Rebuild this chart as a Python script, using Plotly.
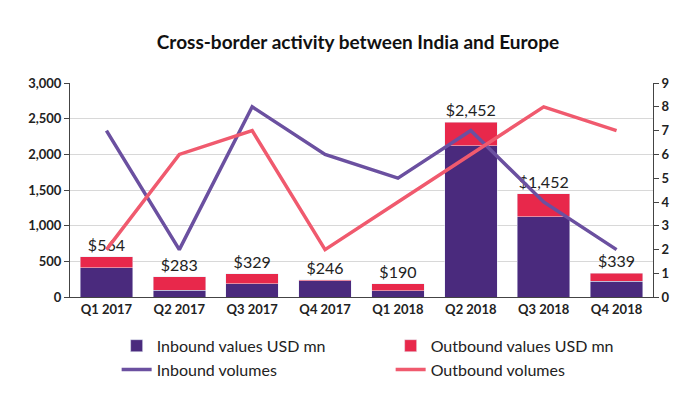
import plotly.graph_objects as go

quarters = ["Q1 2017", "Q2 2017", "Q3 2017", "Q4 2017", "Q1 2018", "Q2 2018", "Q3 2018", "Q4 2018"]
totals = [564, 283, 329, 246, 190, 2452, 1452, 339]
inbound_val = [410, 100, 190, 230, 90, 2120, 1130, 220]
outbound_val = [t - i for t, i in zip(totals, inbound_val)]
inbound_vol = [7, 2, 8, 6, 5, 7, 4, 2]
outbound_vol = [2, 6, 7, 2, 4, 6, 8, 7]
labels = ["$" + format(t, ",") for t in totals]

fnt = "Lato"
fig = go.Figure()
fig.add_trace(go.Bar(x=quarters, y=inbound_val, name="Inbound values USD mn", marker_color="#4a2a7d", width=0.72))
fig.add_trace(go.Bar(x=quarters, y=outbound_val, name="Outbound values USD mn", marker_color="#e8284b", width=0.72,
                     text=labels, textposition="outside", cliponaxis=False,
                     textfont=dict(size=16, color="#222")))
fig.add_trace(go.Scatter(x=quarters, y=inbound_vol, name="Inbound volumes", yaxis="y2", mode="lines",
                         line=dict(color="#6b50a0", width=3.5)))
fig.add_trace(go.Scatter(x=quarters, y=outbound_vol, name="Outbound volumes", yaxis="y2", mode="lines",
                         line=dict(color="#f05a6e", width=3.5)))

fig.update_layout(
    width=700, height=401, barmode="stack", plot_bgcolor="white", paper_bgcolor="white",
    font=dict(family=fnt, size=13, color="#222"),
    title=dict(text="Cross-border activity between India and Europe", x=0.5, y=0.93,
               font=dict(size=19, color="#111", weight="bold")),
    margin=dict(l=62, r=55, t=75, b=108),
    xaxis=dict(showline=True, linecolor="#444", tickfont=dict(size=13, weight="bold")),
    yaxis=dict(range=[0, 3000], dtick=500, tickformat=",", showgrid=True, gridcolor="#d8d8d8",
               showline=True, linecolor="#444", ticks="outside", tickcolor="#444", zeroline=False,
               tickfont=dict(weight="bold")),
    yaxis2=dict(range=[0, 9], dtick=1, overlaying="y", side="right", showgrid=False,
                showline=True, linecolor="#444", ticks="outside", tickcolor="#444",
                tickfont=dict(weight="bold")),
    legend=dict(orientation="h", x=0.08, y=0.2, yref="container", yanchor="top", xanchor="left",
                traceorder="normal", entrywidth=0.47, entrywidthmode="fraction", font=dict(size=16)),
    bargap=0.28,
)
fig.write_html("out.html")
